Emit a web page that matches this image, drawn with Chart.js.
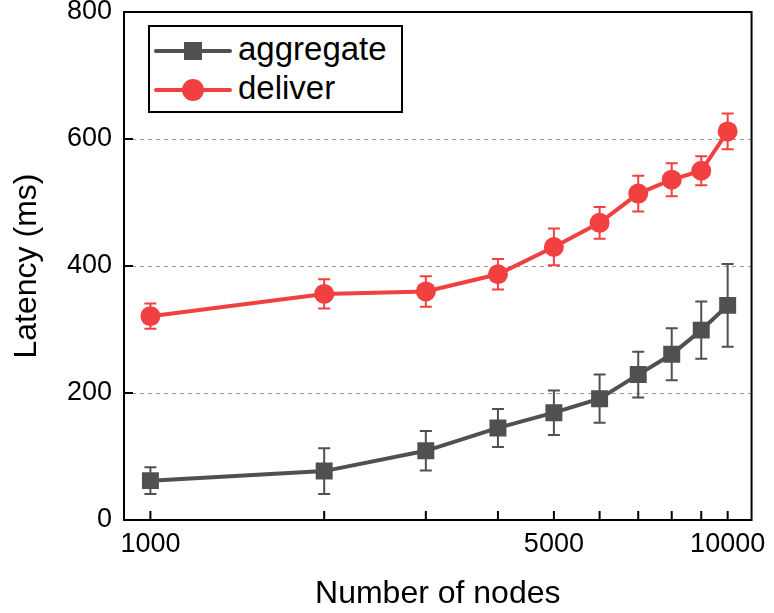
<!DOCTYPE html>
<html>
<head>
<meta charset="utf-8">
<script src="https://cdn.jsdelivr.net/npm/chart.js@4"></script>
<style>
    body { margin: 0; background: #fff; }
    #wrap { position: relative; width: 774px; height: 613px; }
    #legend {
        position: absolute; left: 148px; top: 25px; width: 251px; height: 84px;
        border: 2px solid #000; background: #fff;
        font-family: "Liberation Sans", Arial, sans-serif; font-size: 33px;
    }
    .row { position: absolute; left: 0; height: 40px; width: 100%; }
    .row .line { position: absolute; left: 4px; top: 18px; width: 78px; height: 4px; border-radius: 2px; }
    .row .mark { position: absolute; }
    .row span { position: absolute; left: 88px; top: 0px; line-height: 36px; }
</style>
</head>
<body>
<div id="wrap">
    <canvas id="latencyChart" width="774" height="613"></canvas>
    <div id="legend">
        <div class="row" style="top: 4px;">
            <div class="line" style="background:#505050"></div>
            <div class="mark" style="left:34px; top:11px; width:18px; height:18px; background:#505050"></div>
            <span>aggregate</span>
        </div>
        <div class="row" style="top: 43px;">
            <div class="line" style="background:#f24040"></div>
            <div class="mark" style="left:32px; top:9px; width:22px; height:22px; border-radius:50%; background:#f24040"></div>
            <span>deliver</span>
        </div>
    </div>
</div>
<script>
// Data
const nodes = [1000, 2000, 3000, 4000, 5000, 6000, 7000, 8000, 9000, 10000];
const aggregate = [62, 77, 109, 145, 169, 191, 229, 261, 299, 338];
const aggregateErr = [21, 36, 31, 30, 35, 38, 36, 41, 45, 65];
const deliver = [321, 356, 360, 387, 430, 468, 514, 536, 550, 612];
const deliverErr = [20, 23, 24, 24, 29, 25, 28, 26, 23, 28];
const xLabels = [1000, 5000, 10000];
const yTicks = [0, 200, 400, 600, 800];

const GRAY = "#505050";
const RED = "#f24040";
const FONT = "'Liberation Sans', Arial, sans-serif";

function points(ys) {
    return nodes.map((x, i) => ({ x: x, y: ys[i] }));
}

// Error bars, inward tick marks and the frame
const extrasPlugin = {
    id: "extras",
    beforeDatasetsDraw(chart) {
        const ctx = chart.ctx;
        const xs = chart.scales.x;
        const ys = chart.scales.y;
        const sets = [
            { vals: aggregate, err: aggregateErr, color: GRAY },
            { vals: deliver, err: deliverErr, color: RED },
        ];
        ctx.save();
        ctx.lineWidth = 2;
        sets.forEach((s) => {
            ctx.strokeStyle = s.color;
            nodes.forEach((n, i) => {
                const px = xs.getPixelForValue(n);
                const top = ys.getPixelForValue(s.vals[i] + s.err[i]);
                const bot = ys.getPixelForValue(s.vals[i] - s.err[i]);
                ctx.beginPath();
                ctx.moveTo(px, top); ctx.lineTo(px, bot);
                ctx.moveTo(px - 6, top); ctx.lineTo(px + 6, top);
                ctx.moveTo(px - 6, bot); ctx.lineTo(px + 6, bot);
                ctx.stroke();
            });
        });
        ctx.restore();
    },
    afterDraw(chart) {
        const ctx = chart.ctx;
        const a = chart.chartArea;
        const xs = chart.scales.x;
        const ys = chart.scales.y;
        ctx.save();
        ctx.strokeStyle = "#000";
        ctx.lineWidth = 2;
        ctx.strokeRect(a.left, a.top, a.right - a.left, a.bottom - a.top);
        ctx.beginPath();
        nodes.forEach((n) => {
            const px = xs.getPixelForValue(n);
            ctx.moveTo(px, a.bottom); ctx.lineTo(px, a.bottom - 9);
        });
        yTicks.forEach((v) => {
            const py = ys.getPixelForValue(v);
            ctx.moveTo(a.left, py); ctx.lineTo(a.left + 9, py);
        });
        ctx.stroke();
        ctx.restore();
    },
};

const ctx = document.getElementById("latencyChart").getContext("2d");
const latencyChart = new Chart(ctx, {
    type: "line",
    data: {
        datasets: [
            {
                label: "aggregate",
                data: points(aggregate),
                borderColor: GRAY,
                backgroundColor: GRAY,
                borderWidth: 4,
                pointStyle: "rect",
                pointRadius: 12,
                pointBorderWidth: 0,
            },
            {
                label: "deliver",
                data: points(deliver),
                borderColor: RED,
                backgroundColor: RED,
                borderWidth: 4,
                pointStyle: "circle",
                pointRadius: 10,
                pointBorderWidth: 0,
            },
        ],
    },
    options: {
        responsive: false,
        animation: false,
        layout: { padding: { top: 10, right: 21, left: 0, bottom: 0 } },
        plugins: {
            legend: { display: false },
            tooltip: { enabled: false },
        },
        scales: {
            x: {
                type: "logarithmic",
                min: 900,
                max: 11000,
                afterBuildTicks: (scale) => {
                    scale.ticks = nodes.map((v) => ({ value: v }));
                },
                afterFit: (scale) => { scale.height = 93; },
                ticks: {
                    autoSkip: false,
                    maxRotation: 0,
                    padding: 8,
                    color: "#000",
                    font: { family: FONT, size: 27 },
                    callback: (v) => (xLabels.includes(v) ? String(v) : ""),
                },
                grid: { display: false, drawTicks: false },
                border: { display: false },
                title: {
                    display: true,
                    text: "Number of nodes",
                    color: "#000",
                    font: { family: FONT, size: 32 },
                    padding: { top: 14, bottom: 0 },
                },
            },
            y: {
                min: 0,
                max: 800,
                afterBuildTicks: (scale) => {
                    scale.ticks = yTicks.map((v) => ({ value: v }));
                },
                afterFit: (scale) => {
                    scale.width = 124;
                    scale.paddingTop = 0;
                },
                ticks: {
                    padding: 12,
                    color: "#000",
                    font: { family: FONT, size: 27, lineHeight: 0.2 },
                },
                grid: {
                    drawTicks: false,
                    lineWidth: 1,
                    color: (c) => (c.tick.value === 0 || c.tick.value === 800 ? "rgba(0,0,0,0)" : "#999"),
                },
                border: { display: false, dash: [4, 4] },
                title: {
                    display: true,
                    text: "Latency (ms)",
                    color: "#000",
                    font: { family: FONT, size: 32 },
                    padding: { top: 8, bottom: 0 },
                },
            },
        },
    },
    plugins: [extrasPlugin],
});
</script>
</body>
</html>
